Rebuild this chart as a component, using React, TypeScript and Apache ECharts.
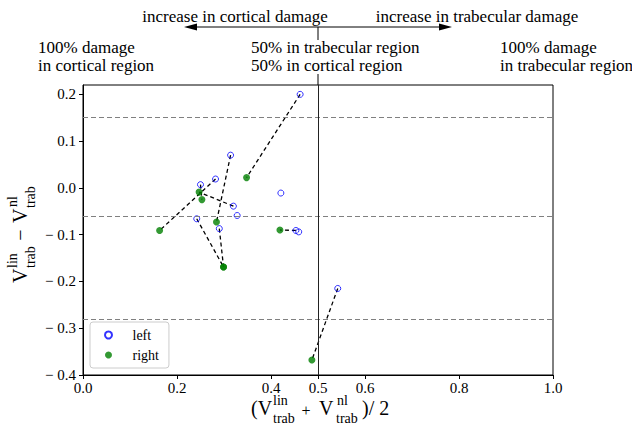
import React, { useEffect, useRef } from "react";
import * as echarts from "echarts";

// left measurement points (open blue)
const leftX = [0.462, 0.282, 0.320, 0.250, 0.314, 0.242, 0.290, 0.453, 0.542, 0.421, 0.328, 0.459];
const leftY = [0.200, 0.019, -0.039, 0.007, 0.070, -0.066, -0.087, -0.091, -0.215, -0.011, -0.059, -0.094];
// right measurement points (filled green); pair i joins left i and right i
const rightX = [0.348, 0.163, 0.247, 0.253, 0.284, 0.299, 0.299, 0.419, 0.487];
const rightY = [0.022, -0.091, -0.009, -0.025, -0.073, -0.169, -0.169, -0.090, -0.368];
// reference lines
const meanDiff = -0.063;
const upperLimit = 0.153;
const lowerLimit = -0.279;
const midLine = 0.5;
const xTicks = [0, 0.2, 0.4, 0.5, 0.6, 0.8, 1.0];
const yTicks = [-0.4, -0.3, -0.2, -0.1, 0, 0.1, 0.2];
const seriesNames = ["left", "right"];

const FONT = "Liberation Serif";

function txt(text: string, x: number, y: number, size: number, align = "left", v = "middle") {
  return {
    type: "text",
    x,
    y,
    silent: true,
    style: {
      text,
      x: 0,
      y: 0,
      fill: "#000",
      fontFamily: FONT,
      fontSize: size,
      textAlign: align,
      textVerticalAlign: v,
    },
  };
}

export default function App() {
  const ref = useRef<HTMLDivElement>(null);
  useEffect(() => {
    if (!ref.current) return;
    const chart = echarts.init(ref.current, null, { renderer: "svg" });

    const pairSeries = rightX.map((rx, i) => ({
      type: "line",
      data: [
        [leftX[i], leftY[i]],
        [rx, rightY[i]],
      ],
      symbol: "none",
      silent: true,
      z: 1,
      lineStyle: { color: "#000", width: 1.3, type: [4, 3] },
    }));

    const option: any = {
      animation: false,
      backgroundColor: "#fff",
      grid: { left: 83, right: 79, top: 85, bottom: 53, show: true, borderColor: "#000", borderWidth: 1, backgroundColor: "transparent" },
      legend: {
        data: seriesNames,
        orient: "vertical",
        left: 90,
        top: 322,
        padding: [6, 10, 6, 14],
        itemWidth: 12,
        itemHeight: 7,
        itemGap: 6,
        backgroundColor: "rgba(255,255,255,0.85)",
        borderColor: "#cccccc",
        borderWidth: 1,
        borderRadius: 3,
        textStyle: { fontFamily: FONT, fontSize: 14, color: "#000", padding: [0, 0, 0, 13] },
      },
      xAxis: {
        type: "value",
        min: 0,
        max: 1,
        interval: 0.1,
        splitLine: { show: false },
        axisLine: { show: true, onZero: false, lineStyle: { color: "#000", width: 1 } },
        axisTick: { show: true, length: 4, customValues: xTicks, lineStyle: { color: "#000" } },
        axisLabel: {
          customValues: xTicks,
          margin: 5,
          fontFamily: FONT,
          fontSize: 15,
          color: "#000",
          formatter: (v: number) => v.toFixed(1),
        },
      },
      yAxis: {
        type: "value",
        min: -0.4,
        max: 0.22,
        interval: 0.1,
        splitLine: { show: false },
        axisLine: { show: true, onZero: false, lineStyle: { color: "#000", width: 1 } },
        axisTick: { show: true, length: 4, customValues: yTicks, lineStyle: { color: "#000" } },
        axisLabel: {
          customValues: yTicks,
          margin: 7,
          fontFamily: FONT,
          fontSize: 15,
          color: "#000",
          formatter: (v: number) => (v < -1e-9 ? "\u2212 " + Math.abs(v).toFixed(1) : v.toFixed(1)),
        },
      },
      series: [
        ...pairSeries,
        {
          name: "left",
          type: "scatter",
          z: 3,
          symbol: "circle",
          symbolSize: 6,
          data: leftX.map((x, i) => [x, leftY[i]]),
          itemStyle: { color: "rgba(255,255,255,0)", borderColor: "#0000ff", borderWidth: 1 },
          markLine: {
            silent: true,
            symbol: "none",
            label: { show: false },
            animation: false,
            data: [
              { yAxis: upperLimit, lineStyle: { color: "#808080", width: 1.2, type: [5, 3] } },
              { yAxis: meanDiff, lineStyle: { color: "#808080", width: 1.2, type: [5, 3] } },
              { yAxis: lowerLimit, lineStyle: { color: "#808080", width: 1.2, type: [5, 3] } },
              { xAxis: midLine, lineStyle: { color: "#222", width: 1, type: "solid" } },
            ],
          },
        },
        {
          name: "right",
          type: "scatter",
          z: 4,
          symbol: "circle",
          symbolSize: 7,
          data: rightX.map((x, i) => [x, rightY[i]]),
          itemStyle: { color: "#008000" },
        },
      ],
      graphic: [
        // top arrow
        { type: "line", silent: true, shape: { x1: 190, y1: 27, x2: 446, y2: 27 }, style: { stroke: "#000", lineWidth: 1 } },
        { type: "polygon", silent: true, shape: { points: [[184, 27], [197, 23.5], [197, 30.5]] }, style: { fill: "#000" } },
        { type: "polygon", silent: true, shape: { points: [[452, 27], [439, 23.5], [439, 30.5]] }, style: { fill: "#000" } },
        { type: "line", silent: true, shape: { x1: 318, y1: 27, x2: 318, y2: 85 }, style: { stroke: "#000", lineWidth: 1 } },
        { type: "rect", silent: true, shape: { x: 249, y: 40, width: 172, height: 34 }, style: { fill: "#fff" } },
        txt("increase in cortical damage", 235, 16, 17, "center"),
        txt("increase in trabecular damage", 477, 16, 17, "center"),
        txt("100% damage", 38, 47, 17),
        txt("in cortical region", 38, 65, 17),
        txt("50% in trabecular region", 251, 47, 17),
        txt("50% in cortical region", 251, 65, 17),
        txt("100% damage", 500, 47, 17),
        txt("in trabecular region", 500, 65, 17),
        // x axis name
        txt("(V", 251, 408, 20),
        txt("lin", 273, 400, 14),
        txt("trab", 273, 418, 14),
        txt("+", 306, 410, 16, "center"),
        txt("V", 319, 408, 20),
        txt("nl", 337, 400, 14),
        txt("trab", 336, 418, 14),
        txt(")/ 2", 362, 408, 20),
        // y axis name (rotated)
        {
          type: "group",
          x: 20,
          y: 233,
          rotation: Math.PI / 2,
          silent: true,
          children: [
            txt("V", -50, 0, 20),
            txt("lin", -35, -8, 14),
            txt("trab", -35, 10, 14),
            txt("\u2212", -2, 0, 20, "center"),
            txt("V", 10, 0, 20),
            txt("nl", 26, -8, 14),
            txt("trab", 25, 10, 14),
          ],
        },
      ],
    };
    chart.setOption(option);
    return () => chart.dispose();
  }, []);
  return <div ref={ref} style={{ position: "fixed", left: 0, top: 0, width: 632, height: 428 }} />;
}
